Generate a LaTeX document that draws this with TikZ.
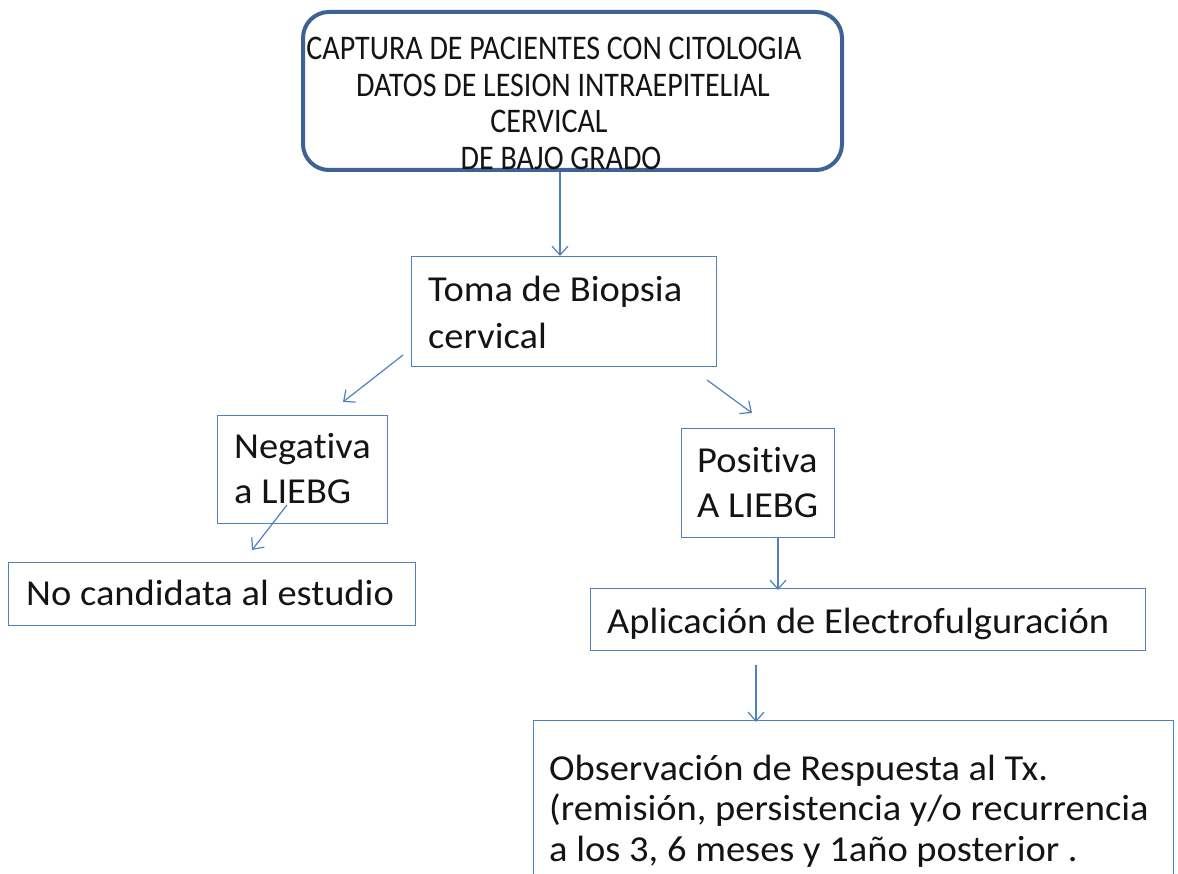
\documentclass[tikz,border=0pt]{standalone}
\usepackage{fontspec}
\setmainfont{Carlito}[Ligatures=NoCommon]
\usetikzlibrary{arrows.meta}
\definecolor{boxblue}{RGB}{79,129,189}
\definecolor{topblue}{RGB}{62,98,145}
\definecolor{txt}{RGB}{20,20,20}
\tikzset{
  box/.style={draw=boxblue, line width=1.4pt, anchor=north west, inner sep=0pt},
  topbox/.style={draw=topblue, line width=4pt, rounded corners=26pt, anchor=north west, inner sep=0pt},
  lab/.style={inner sep=0pt, text=txt, anchor=base west},
  arr/.style={draw=boxblue, line width=1.2pt, -{Straight Barb[length=9pt,width=16pt]}},
}
\newcommand\bodyfont{\fontsize{38.5}{45}\selectfont}
\newcommand\mylines[2]{\scalebox{1}[0.95]{\vtop{\bodyfont\baselineskip=#1 #2}}}
\begin{document}
\begin{tikzpicture}[x=1pt,y=-1pt]
\clip (0,0) rectangle (1178,874);
% boxes
\node[topbox, minimum width=539pt, minimum height=158pt] (top) at (301,10) {};
\node[box, minimum width=305pt, minimum height=110pt] (toma) at (411,256) {};
\node[box, minimum width=170pt, minimum height=108pt] (neg) at (217,415) {};
\node[box, minimum width=153pt, minimum height=109pt] (pos) at (681,428) {};
\node[box, minimum width=407pt, minimum height=63pt] (noc) at (8,562) {};
\node[box, minimum width=555pt, minimum height=62pt] (apl) at (590,588) {};
\node[box, minimum width=640pt, minimum height=200pt] (obs) at (533,720) {};
% texts
\node[inner sep=0pt, text=txt, anchor=base] (toptext) at (557,60)
  {\scalebox{1}[1.15]{\vtop{\fontsize{30}{31.7}\selectfont\baselineskip=31.7pt
   \halign{\hfil#\hfil\cr
   CAPTURA DE PACIENTES CON CITOLOGIA\kern6pt\cr
   \kern12pt DATOS DE LESION INTRAEPITELIAL\cr
   CERVICAL\kern16pt\cr
   \kern8pt DE BAJO GRADO\cr}}}};
\node[lab] (tomatext) at (428,302) {\mylines{49pt}{\hbox{Toma de Biopsia}\hbox{cervical}}};
\node[lab] (negtext) at (234,458) {\mylines{48pt}{\hbox{Negativa}\hbox{a LIEBG}}};
\node[lab] (postext) at (697,472) {\mylines{48pt}{\hbox{Positiva}\hbox{A LIEBG}}};
\node[lab] (noctext) at (26,605) {\mylines{44pt}{\hbox{No candidata al estudio}}};
\node[lab] (apltext) at (607,633) {\mylines{44pt}{\hbox{Aplicación de Electrofulguración}}};
\node[lab] (obstext) at (549,780) {\mylines{43pt}{\hbox{Observación de Respuesta al Tx.}\hbox{(remisión, persistencia y/o recurrencia}\hbox{a los 3, 6 meses y 1año posterior .}}};
% connector end points
\coordinate (a1) at (403,355);
\coordinate (a2) at (343,402);
\coordinate (b1) at (707,380);
\coordinate (b2) at (752,413);
\coordinate (c1) at (287,505);
\coordinate (c2) at (252,550);
\coordinate (d1) at (756,665);
% connectors
\draw[arr] (top.south -| 560,0) -- (toma.north -| 560,0);
\draw[arr] (a1) -- (a2);
\draw[arr] (b1) -- (b2);
\draw[arr] (c1) -- (c2);
\draw[arr] (pos.south -| 778,0) -- ([yshift=-2pt]apl.north -| 778,0);
\draw[arr] (d1) -- ([yshift=-2pt]obs.north -| 756,0);
\end{tikzpicture}
\end{document}
